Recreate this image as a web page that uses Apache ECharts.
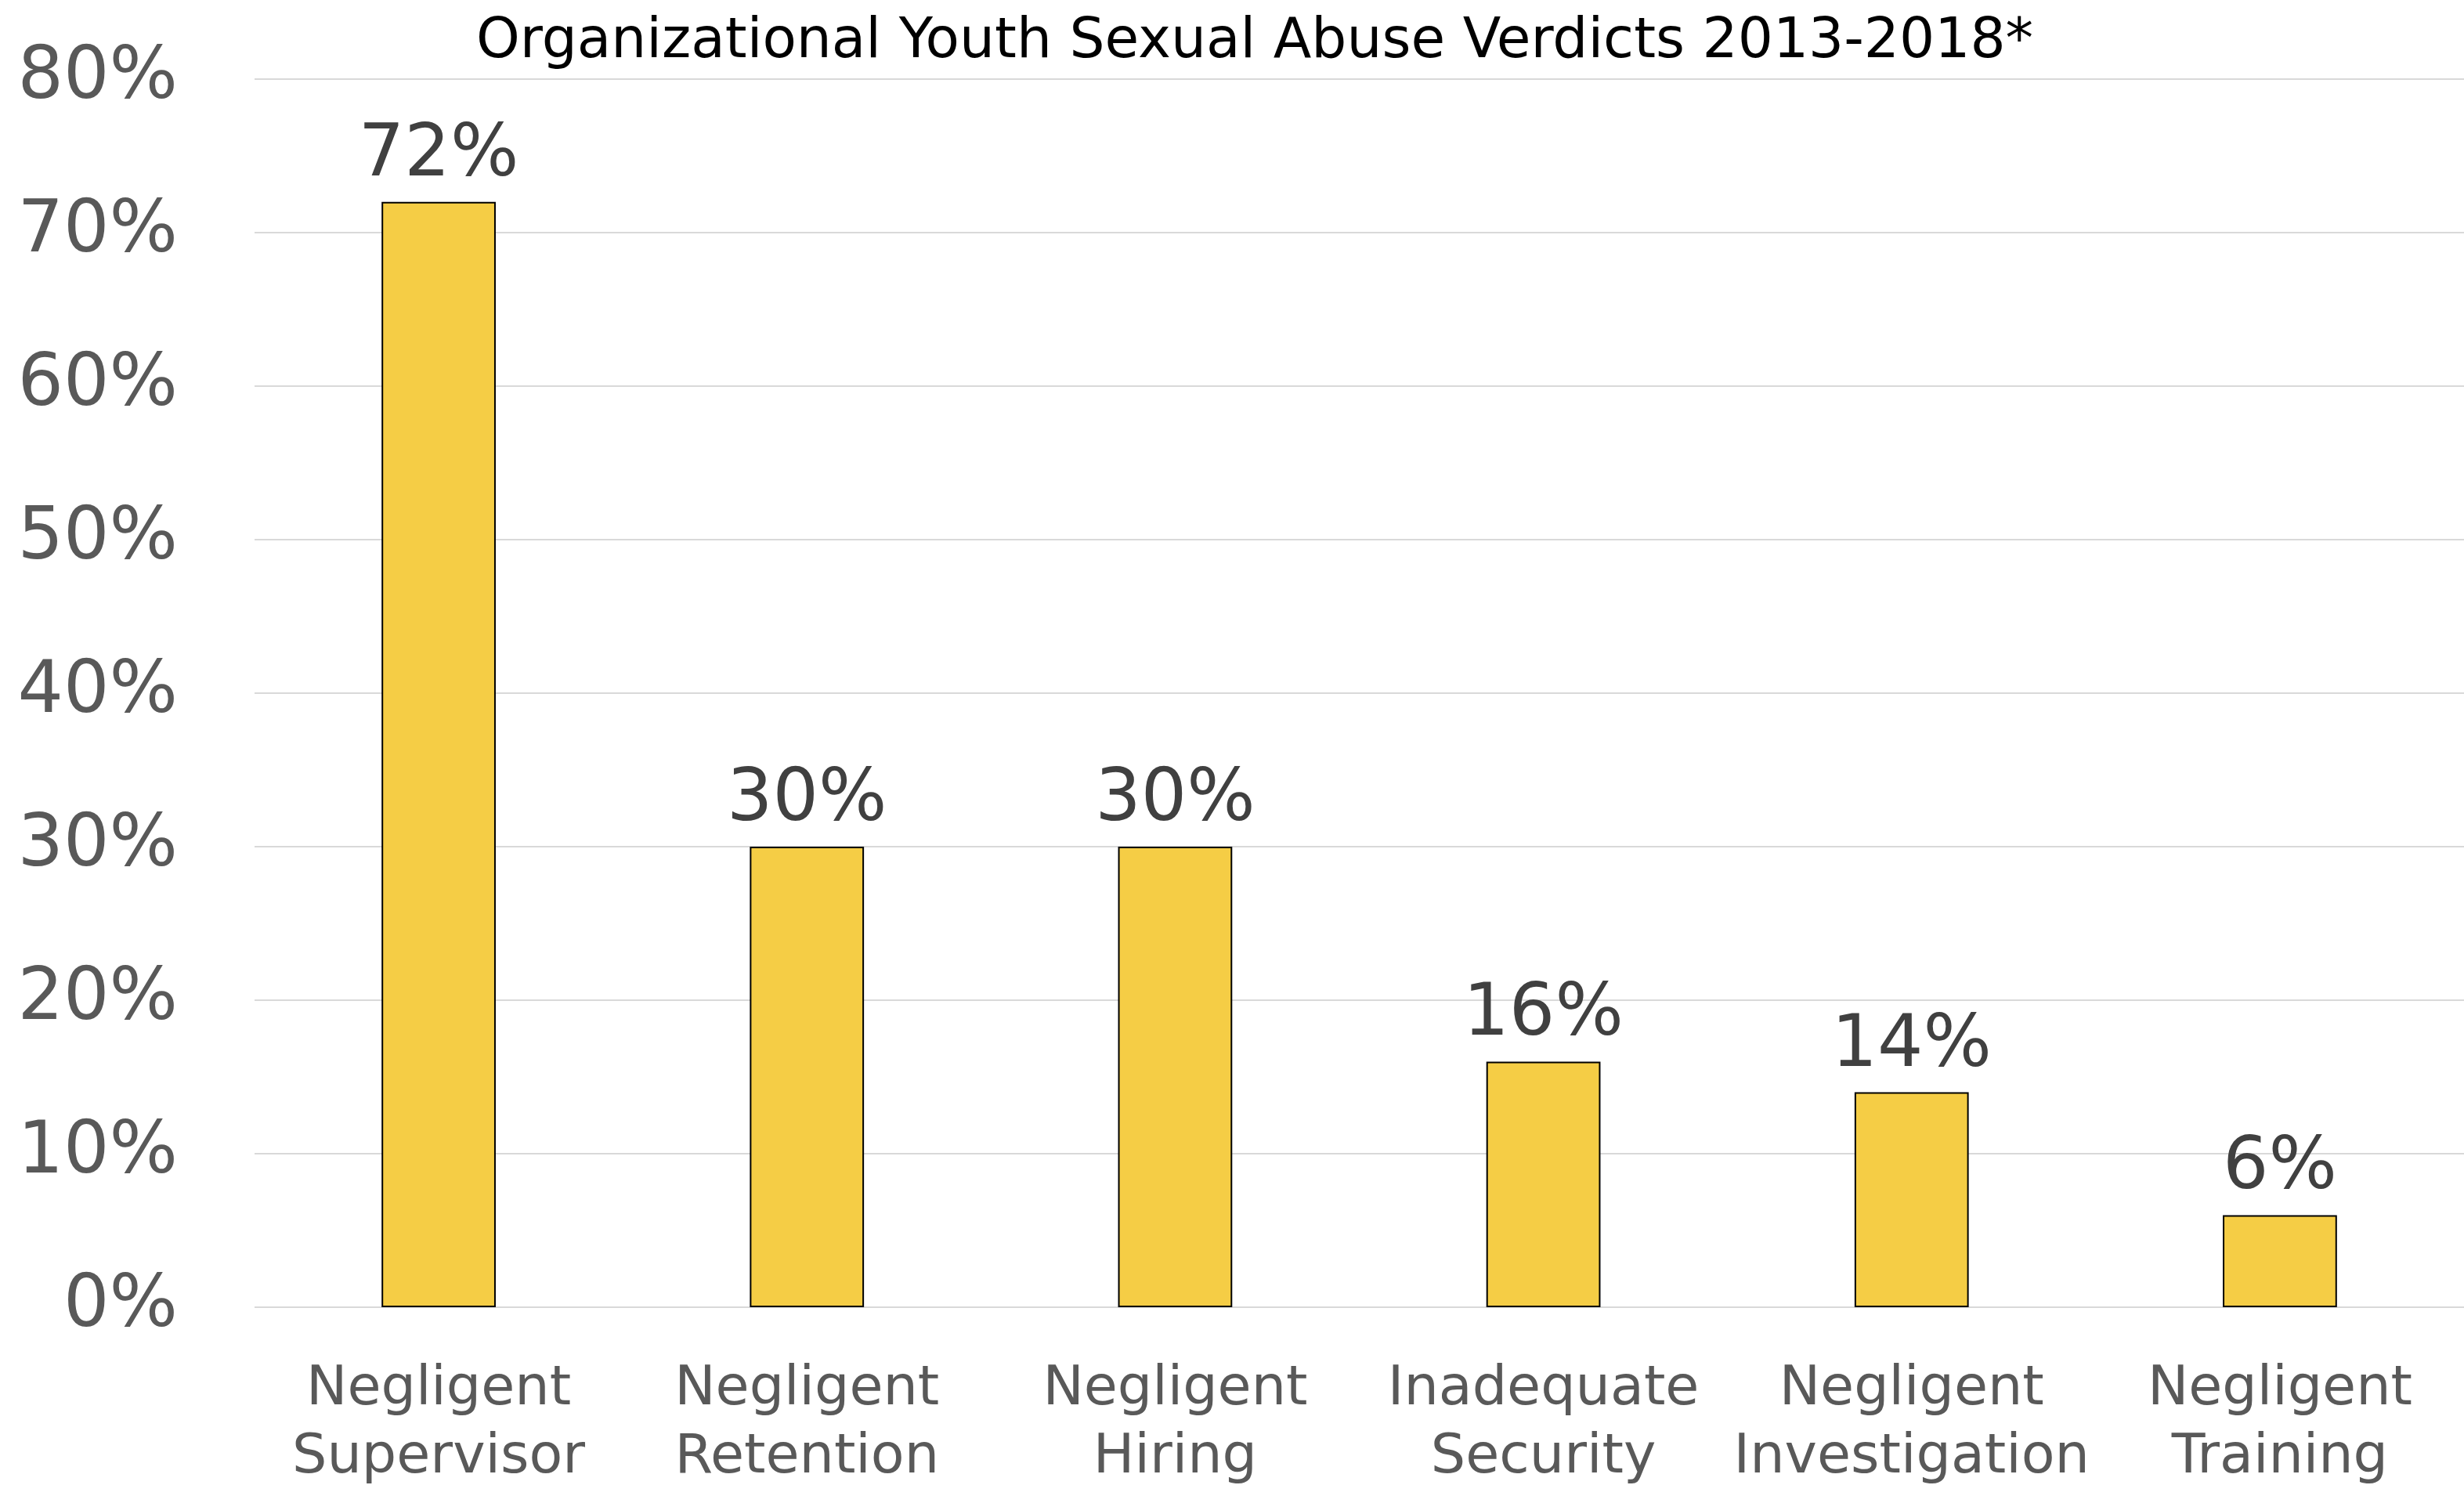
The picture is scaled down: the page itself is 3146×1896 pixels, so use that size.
<!DOCTYPE html>
<html><head><meta charset="utf-8">
<script src="https://cdn.jsdelivr.net/npm/echarts@6/dist/echarts.min.js"></script>
<style>html,body{margin:0;padding:0;background:#fff}#c{width:3146px;height:1896px}</style>
</head><body><div id="c"></div>
<script>
const categories = ['Negligent\nSupervisor','Negligent\nRetention','Negligent\nHiring','Inadequate\nSecurity','Negligent\nInvestigation','Negligent\nTraining'];
const values = [72, 30, 30, 16, 14, 6];
const yTicks = [0, 10, 20, 30, 40, 50, 60, 70, 80];
const titleText = 'Organizational Youth Sexual Abuse Verdicts 2013-2018*';

const FONT = '"DejaVu Sans", sans-serif';
const chart = echarts.init(document.getElementById('c'), null, {renderer: 'canvas'});
chart.setOption({
  backgroundColor: '#fff',
  animation: false,
  title: {
    text: titleText,
    left: 1597, top: 14, textAlign: 'center',
    textStyle: {fontFamily: FONT, fontSize: 71, fontWeight: 'normal', color: '#000'}
  },
  grid: {left: 325, right: 0, top: 101, bottom: 227, containLabel: false, outerBoundsMode: 'none'},
  xAxis: {
    type: 'category', data: categories,
    axisLine: {show: false}, axisTick: {show: false},
    axisLabel: {fontFamily: FONT, fontSize: 70, color: '#595959', lineHeight: 87, margin: 62, interval: 0}
  },
  yAxis: {
    type: 'value', min: yTicks[0], max: yTicks[yTicks.length-1], interval: 10,
    axisLine: {show: false}, axisTick: {show: false},
    splitLine: {lineStyle: {color: '#d9d9d9', width: 2}},
    axisLabel: {fontFamily: FONT, fontSize: 92, color: '#595959', margin: 98, formatter: '{value}%', padding: [8, 0, 0, 0]}
  },
  series: [{
    type: 'bar', data: values, barWidth: '31%',
    itemStyle: {color: '#F5CD45', borderColor: '#000', borderWidth: 2},
    label: {show: true, position: 'top', distance: 12, formatter: '{c}%',
      fontFamily: FONT, fontSize: 92, color: '#404040'}
  }]
});
</script></body></html>
